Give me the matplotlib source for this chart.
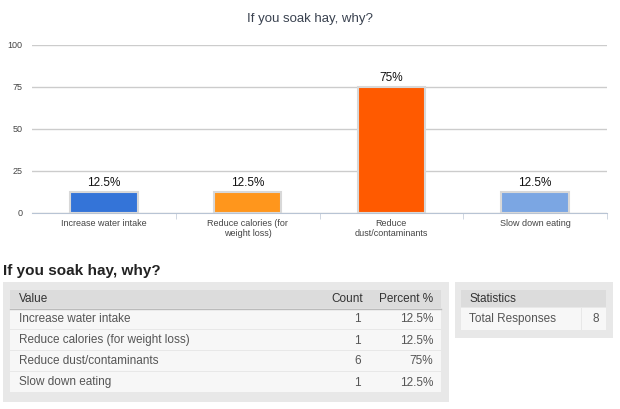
import matplotlib.pyplot as plt
from matplotlib.patches import Rectangle

plt.rcParams['font.family'] = ['Liberation Sans', 'DejaVu Sans']

# survey data
categories = ['Increase water intake', 'Reduce calories (for weight loss)',
              'Reduce dust/contaminants', 'Slow down eating']
tick_labels = ['Increase water intake', 'Reduce calories (for\nweight loss)',
               'Reduce\ndust/contaminants', 'Slow down eating']
counts = [1, 1, 6, 1]
percents = [12.5, 12.5, 75, 12.5]
pct_labels = ['12.5%', '12.5%', '75%', '12.5%']
bar_colors = ['#3474d8', '#ff961c', '#ff5a00', '#7ba6e3']
yticks = [0, 25, 50, 75, 100]
total = 8

W, H = 620, 409
fig = plt.figure(figsize=(W / 100, H / 100), dpi=100)


def fx(x):
    return x / W


def fy(y):
    return 1 - y / H


def box(x0, y0, x1, y1, color, ec='none'):
    fig.patches.append(Rectangle((fx(x0), fy(y1)), fx(x1) - fx(x0), fy(y0) - fy(y1),
                                 transform=fig.transFigure, facecolor=color,
                                 edgecolor=ec, linewidth=0.8, zorder=0))


def txt(x, y, s, ha='left', **kw):
    fig.text(fx(x), fy(y), s, ha=ha, va='center', **kw)


# ---- bar chart ----
ax = fig.add_axes([fx(32), fy(213), fx(607) - fx(32), fy(45) - fy(213)])
xs = range(len(categories))
ax.bar(xs, percents, width=0.47, color=bar_colors, edgecolor='#d8d8d8',
       linewidth=1.5, zorder=3)
for x, p, lab in zip(xs, percents, pct_labels):
    ax.text(x, p + 2, lab, ha='center', va='bottom', fontsize=8.5, color='#111111')
ax.set_xlim(-0.5, 3.5)
ax.set_ylim(0, 100)
ax.set_yticks(yticks)
ax.set_yticklabels([str(t) for t in yticks], fontsize=6.5, color='#444444')
ax.set_xticks(list(xs))
ax.set_xticklabels(tick_labels, fontsize=6.5, color='#444444', linespacing=1.2)
ax.set_xticks([0.5, 1.5, 2.5, 3.5], minor=True)
ax.tick_params(axis='x', which='major', length=0, pad=4)
ax.tick_params(axis='x', which='minor', length=4, color='#c8d0dc')
ax.tick_params(axis='y', length=0, pad=7)
ax.grid(axis='y', color='#cccccc', linewidth=1, zorder=0)
for s in ['top', 'right', 'left']:
    ax.spines[s].set_visible(False)
ax.spines['bottom'].set_color('#b8c4d4')
ax.set_axisbelow(True)
fig.text(0.5, fy(19), 'If you soak hay, why?', ha='center', va='center',
         fontsize=9.5, color='#3a4250')

# ---- summary table ----
txt(3, 271, 'If you soak hay, why?', fontsize=11, fontweight='bold', color='#222222')
box(3, 282, 449, 402, '#e8e8e8')
box(10, 290, 441, 308, '#dcdcdc')
txt(19, 299, 'Value', fontsize=8.5, color='#333333')
txt(363, 299, 'Count', ha='right', fontsize=8.5, color='#333333')
txt(433, 299, 'Percent %', ha='right', fontsize=8.5, color='#333333')
row_h = 21
for i, (cat, c, pl) in enumerate(zip(categories, counts, pct_labels)):
    y0 = 309 + i * row_h
    box(10, y0, 441, y0 + row_h - 1, '#f7f7f7')
    txt(19, y0 + row_h / 2, cat, fontsize=8.5, color='#555555')
    txt(361, y0 + row_h / 2, str(c), ha='right', fontsize=8.5, color='#555555')
    txt(433, y0 + row_h / 2, pl, ha='right', fontsize=8.5, color='#555555')
fig.lines.append(plt.Line2D([fx(10), fx(441)], [fy(308.5), fy(308.5)],
                            transform=fig.transFigure, color='#bbbbbb', linewidth=1))

# ---- statistics box ----
box(455, 282, 613, 338, '#e8e8e8')
box(461, 290, 606, 307, '#dcdcdc')
txt(469, 298.5, 'Statistics', fontsize=8.5, color='#333333')
box(461, 308, 581, 330, '#f7f7f7')
box(582, 308, 606, 330, '#f7f7f7')
txt(469, 319, 'Total Responses', fontsize=8.5, color='#555555')
txt(599, 319, str(total), ha='right', fontsize=8.5, color='#555555')

fig.savefig('out.png', dpi=100, facecolor='white')
